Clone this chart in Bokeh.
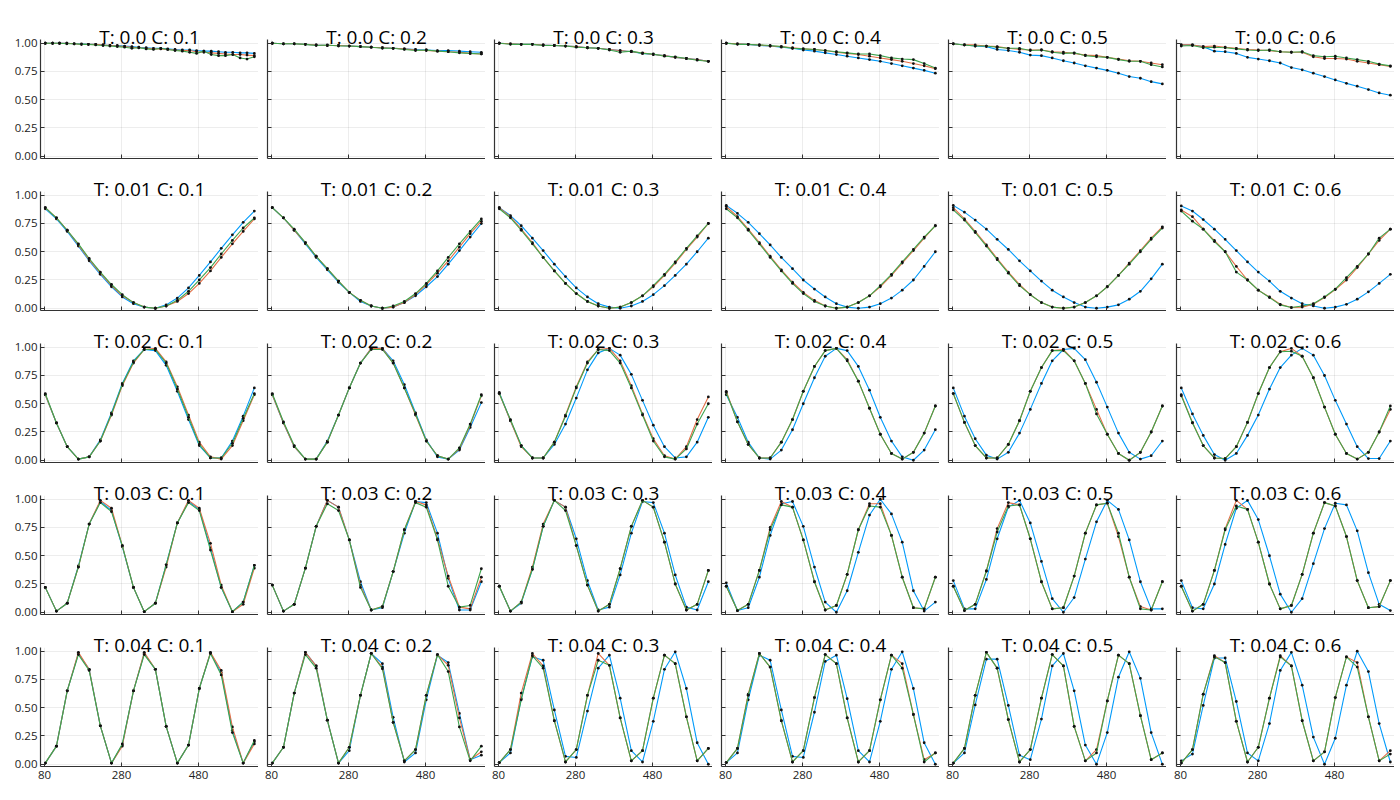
from bokeh.plotting import figure
from bokeh.layouts import gridplot
from bokeh.models import Range1d, FixedTicker, PrintfTickFormatter
from bokeh.embed import file_html
from bokeh.resources import INLINE

T_LABELS = ["0.0", "0.01", "0.02", "0.03", "0.04"]
C_LABELS = ["0.1", "0.2", "0.3", "0.4", "0.5", "0.6"]
X_TICKS = [80, 280, 480]
Y_TICKS = [0.0, 0.25, 0.5, 0.75, 1.0]

x_dense = [82, 101, 119, 138, 157, 176, 194, 213, 232, 250, 269, 288, 307, 325, 344,
           363, 382, 400, 419, 438, 457, 475, 494, 513, 532, 550, 569, 588, 606, 625]
x_std = [82, 111, 139, 168, 196, 225, 254, 282, 311, 339, 368, 396, 425, 454, 482,
         511, 539, 568, 596, 625]

# ---- T = 0.0 ----
t0_c1_blue = [1.00,1.00,1.00,1.00,0.995,0.995,0.99,0.99,0.985,0.98,0.98,0.975,0.97,0.965,0.96,0.955,0.955,0.95,0.945,0.94,0.94,0.935,0.93,0.93,0.925,0.92,0.92,0.915,0.915,0.91]
t0_c1_red = [1.00,1.00,1.00,1.00,0.995,0.99,0.99,0.99,0.985,0.98,0.975,0.97,0.965,0.96,0.955,0.95,0.95,0.945,0.94,0.935,0.935,0.925,0.92,0.915,0.91,0.905,0.90,0.90,0.895,0.89]
t0_c1_green = [1.00,1.00,1.00,0.995,0.995,0.99,0.99,0.985,0.98,0.975,0.97,0.965,0.955,0.96,0.95,0.945,0.955,0.945,0.935,0.93,0.92,0.91,0.93,0.90,0.89,0.89,0.90,0.87,0.86,0.88]
t0_c2_blue = [1.00,0.995,0.995,0.99,0.985,0.98,0.98,0.975,0.97,0.965,0.96,0.955,0.95,0.945,0.94,0.935,0.935,0.93,0.925,0.92]
t0_c2_red = [1.00,0.995,0.995,0.99,0.985,0.98,0.98,0.975,0.97,0.965,0.96,0.955,0.95,0.94,0.935,0.93,0.925,0.92,0.91,0.905]
t0_c2_green = [1.00,0.995,0.995,0.99,0.98,0.985,0.975,0.975,0.97,0.965,0.955,0.955,0.945,0.935,0.94,0.93,0.925,0.915,0.91,0.905]
t0_c3_blue = [1.00,0.995,0.99,0.99,0.985,0.98,0.975,0.97,0.96,0.955,0.945,0.935,0.925,0.91,0.90,0.89,0.875,0.865,0.855,0.84]
t0_c3_red = [1.00,0.995,0.99,0.99,0.985,0.98,0.975,0.97,0.96,0.955,0.945,0.935,0.925,0.915,0.90,0.89,0.875,0.865,0.855,0.84]
t0_c3_green = [1.00,0.99,0.99,0.99,0.98,0.98,0.975,0.965,0.96,0.955,0.94,0.92,0.93,0.91,0.905,0.885,0.88,0.865,0.85,0.84]
t0_c4_blue = [1.00,0.995,0.99,0.98,0.975,0.965,0.955,0.94,0.93,0.915,0.90,0.885,0.87,0.855,0.84,0.82,0.80,0.78,0.76,0.735]
t0_c4_red = [1.00,0.995,0.99,0.985,0.975,0.97,0.96,0.95,0.945,0.935,0.92,0.91,0.90,0.885,0.87,0.855,0.84,0.82,0.80,0.775]
t0_c4_green = [1.00,0.99,0.99,0.985,0.98,0.97,0.955,0.95,0.945,0.935,0.925,0.915,0.905,0.905,0.89,0.87,0.86,0.855,0.82,0.78]
t0_c5_blue = [0.995,0.985,0.975,0.97,0.945,0.935,0.92,0.895,0.89,0.87,0.845,0.825,0.80,0.78,0.76,0.735,0.705,0.69,0.66,0.64]
t0_c5_red = [0.995,0.985,0.985,0.975,0.97,0.955,0.945,0.94,0.94,0.925,0.92,0.91,0.895,0.89,0.875,0.86,0.845,0.84,0.825,0.81]
t0_c5_green = [0.995,0.985,0.975,0.975,0.965,0.955,0.955,0.935,0.94,0.92,0.91,0.915,0.89,0.88,0.875,0.855,0.84,0.84,0.81,0.79]
t0_c6_blue = [0.985,0.985,0.97,0.93,0.925,0.91,0.875,0.86,0.845,0.825,0.785,0.765,0.735,0.705,0.675,0.645,0.62,0.59,0.56,0.54]
t0_c6_red = [0.985,0.985,0.97,0.975,0.965,0.955,0.945,0.94,0.935,0.925,0.92,0.92,0.88,0.865,0.865,0.86,0.84,0.825,0.81,0.795]
t0_c6_green = [0.975,0.98,0.96,0.965,0.96,0.95,0.94,0.935,0.94,0.925,0.92,0.925,0.89,0.88,0.885,0.87,0.855,0.84,0.815,0.80]

# ---- T = 0.01 ----
t1_c1_blue = [0.88,0.79,0.68,0.55,0.42,0.30,0.19,0.10,0.04,0.01,0.00,0.03,0.09,0.18,0.29,0.41,0.53,0.65,0.76,0.86]
t1_c1_red = [0.89,0.80,0.69,0.56,0.43,0.31,0.20,0.11,0.05,0.01,0.00,0.02,0.06,0.13,0.22,0.33,0.45,0.57,0.68,0.79]
t1_c1_green = [0.89,0.80,0.69,0.57,0.44,0.32,0.21,0.12,0.05,0.01,0.00,0.02,0.07,0.15,0.25,0.36,0.48,0.60,0.71,0.80]
t1_c2_blue = [0.89,0.80,0.69,0.57,0.45,0.34,0.23,0.14,0.06,0.02,0.00,0.01,0.05,0.11,0.19,0.28,0.39,0.51,0.63,0.75]
t1_c2_red = [0.89,0.80,0.69,0.58,0.46,0.35,0.24,0.14,0.07,0.02,0.00,0.01,0.05,0.12,0.21,0.31,0.42,0.54,0.66,0.77]
t1_c2_green = [0.89,0.80,0.70,0.58,0.46,0.35,0.24,0.14,0.07,0.02,0.00,0.02,0.06,0.13,0.22,0.33,0.45,0.57,0.68,0.79]
t1_c3_blue = [0.89,0.82,0.73,0.62,0.51,0.39,0.28,0.18,0.10,0.04,0.01,0.00,0.02,0.06,0.12,0.20,0.29,0.39,0.50,0.62]
t1_c3_red = [0.89,0.81,0.70,0.58,0.45,0.33,0.22,0.13,0.06,0.02,0.00,0.01,0.05,0.11,0.19,0.29,0.40,0.52,0.63,0.75]
t1_c3_green = [0.88,0.80,0.69,0.57,0.45,0.33,0.22,0.13,0.06,0.02,0.00,0.01,0.05,0.11,0.20,0.30,0.41,0.53,0.64,0.75]
t1_c4_blue = [0.91,0.84,0.76,0.66,0.56,0.45,0.35,0.25,0.17,0.10,0.04,0.01,0.00,0.01,0.04,0.09,0.16,0.25,0.37,0.50]
t1_c4_red = [0.90,0.81,0.70,0.58,0.46,0.34,0.23,0.14,0.07,0.02,0.00,0.01,0.05,0.11,0.19,0.29,0.40,0.51,0.62,0.73]
t1_c4_green = [0.88,0.80,0.69,0.57,0.45,0.33,0.22,0.13,0.06,0.02,0.00,0.01,0.05,0.11,0.20,0.30,0.41,0.52,0.63,0.73]
t1_c5_blue = [0.91,0.85,0.78,0.70,0.61,0.52,0.42,0.33,0.24,0.16,0.10,0.05,0.01,0.00,0.01,0.03,0.08,0.15,0.26,0.39]
t1_c5_red = [0.89,0.79,0.68,0.56,0.44,0.32,0.21,0.12,0.05,0.01,0.00,0.01,0.05,0.11,0.19,0.29,0.40,0.51,0.62,0.72]
t1_c5_green = [0.87,0.78,0.67,0.55,0.43,0.31,0.20,0.12,0.05,0.01,0.00,0.01,0.05,0.11,0.19,0.29,0.39,0.50,0.61,0.71]
t1_c6_blue = [0.905,0.86,0.785,0.70,0.61,0.51,0.41,0.32,0.24,0.15,0.09,0.04,0.02,0.00,0.01,0.035,0.08,0.145,0.22,0.30]
t1_c6_red = [0.87,0.81,0.70,0.60,0.50,0.37,0.25,0.16,0.10,0.035,0.006,0.01,0.035,0.095,0.165,0.25,0.36,0.48,0.60,0.70]
t1_c6_green = [0.86,0.77,0.70,0.59,0.50,0.32,0.25,0.16,0.095,0.03,0.006,0.02,0.04,0.10,0.17,0.27,0.37,0.48,0.62,0.70]

# ---- T = 0.02 ----
t2_c1_blue = [0.58,0.33,0.12,0.01,0.03,0.18,0.42,0.68,0.88,0.98,0.97,0.84,0.61,0.36,0.13,0.02,0.02,0.17,0.39,0.64]
t2_c1_red = [0.58,0.33,0.12,0.01,0.03,0.17,0.40,0.66,0.86,0.98,0.99,0.87,0.65,0.40,0.16,0.03,0.01,0.13,0.35,0.58]
t2_c1_green = [0.59,0.33,0.12,0.01,0.03,0.17,0.41,0.67,0.87,0.98,0.98,0.86,0.63,0.38,0.14,0.02,0.02,0.15,0.37,0.59]
t2_c2_blue = [0.58,0.33,0.12,0.01,0.01,0.17,0.40,0.64,0.86,0.99,0.99,0.88,0.67,0.42,0.18,0.03,0.01,0.09,0.29,0.51]
t2_c2_red = [0.58,0.33,0.12,0.01,0.01,0.16,0.40,0.64,0.86,0.99,0.99,0.86,0.64,0.40,0.17,0.04,0.01,0.10,0.31,0.57]
t2_c2_green = [0.59,0.34,0.13,0.01,0.01,0.16,0.40,0.64,0.86,0.98,0.98,0.86,0.64,0.41,0.17,0.04,0.01,0.11,0.32,0.58]
t2_c3_blue = [0.60,0.35,0.13,0.02,0.02,0.14,0.32,0.55,0.80,0.95,0.99,0.93,0.76,0.53,0.31,0.12,0.02,0.03,0.16,0.38]
t2_c3_red = [0.59,0.35,0.12,0.02,0.02,0.16,0.40,0.65,0.87,0.98,0.99,0.88,0.66,0.41,0.19,0.04,0.01,0.12,0.36,0.56]
t2_c3_green = [0.59,0.36,0.13,0.02,0.02,0.16,0.39,0.64,0.86,0.98,0.97,0.86,0.64,0.40,0.17,0.03,0.01,0.10,0.32,0.50]
t2_c4_blue = [0.58,0.38,0.16,0.02,0.01,0.09,0.27,0.50,0.73,0.92,0.99,0.97,0.83,0.62,0.38,0.17,0.03,0.00,0.09,0.27]
t2_c4_red = [0.61,0.34,0.14,0.02,0.02,0.16,0.36,0.61,0.83,0.97,0.99,0.89,0.70,0.46,0.23,0.06,0.01,0.07,0.24,0.48]
t2_c4_green = [0.60,0.34,0.14,0.02,0.02,0.16,0.36,0.61,0.83,0.97,0.99,0.88,0.70,0.46,0.23,0.06,0.01,0.07,0.24,0.48]
t2_c5_blue = [0.64,0.39,0.19,0.045,0.01,0.07,0.24,0.45,0.68,0.88,0.98,0.99,0.89,0.69,0.47,0.24,0.07,0.01,0.04,0.17]
t2_c5_red = [0.59,0.335,0.13,0.02,0.02,0.14,0.35,0.61,0.82,0.97,0.98,0.88,0.68,0.45,0.23,0.06,0.00,0.07,0.25,0.48]
t2_c5_green = [0.59,0.335,0.13,0.02,0.02,0.14,0.35,0.61,0.82,0.97,0.97,0.88,0.68,0.41,0.23,0.06,0.00,0.07,0.25,0.48]
t2_c6_blue = [0.64,0.41,0.22,0.05,0.00,0.06,0.22,0.40,0.63,0.82,0.93,0.99,0.93,0.75,0.53,0.32,0.12,0.015,0.015,0.17]
t2_c6_red = [0.58,0.335,0.13,0.02,0.015,0.12,0.335,0.59,0.82,0.96,0.99,0.92,0.73,0.47,0.23,0.06,0.01,0.07,0.25,0.45]
t2_c6_green = [0.57,0.33,0.13,0.02,0.015,0.12,0.335,0.59,0.82,0.96,0.965,0.92,0.73,0.47,0.23,0.06,0.01,0.07,0.25,0.48]

# ---- T = 0.03 ----
t3_c1_blue = [0.22,0.01,0.08,0.41,0.78,0.98,0.90,0.58,0.22,0.005,0.08,0.42,0.79,0.98,0.91,0.57,0.22,0.005,0.09,0.415]
t3_c1_red = [0.22,0.01,0.08,0.40,0.78,0.99,0.92,0.59,0.22,0.005,0.08,0.40,0.79,0.99,0.92,0.61,0.24,0.005,0.07,0.39]
t3_c1_green = [0.22,0.01,0.08,0.40,0.78,0.97,0.89,0.59,0.22,0.005,0.08,0.42,0.79,0.97,0.90,0.55,0.22,0.005,0.09,0.415]
t3_c2_blue = [0.24,0.01,0.07,0.39,0.76,0.99,0.93,0.64,0.27,0.02,0.04,0.36,0.70,0.98,0.97,0.70,0.30,0.02,0.02,0.27]
t3_c2_red = [0.24,0.01,0.07,0.39,0.76,0.99,0.93,0.64,0.24,0.02,0.05,0.36,0.73,0.98,0.95,0.65,0.32,0.045,0.03,0.31]
t3_c2_green = [0.24,0.01,0.07,0.39,0.76,0.96,0.90,0.64,0.22,0.02,0.05,0.36,0.73,0.97,0.93,0.64,0.23,0.045,0.06,0.385]
t3_c3_blue = [0.23,0.01,0.08,0.38,0.76,0.99,0.93,0.65,0.28,0.02,0.045,0.33,0.70,0.98,0.97,0.70,0.33,0.045,0.02,0.27]
t3_c3_red = [0.23,0.01,0.09,0.40,0.78,0.99,0.93,0.59,0.24,0.01,0.07,0.385,0.76,0.99,0.93,0.62,0.25,0.02,0.07,0.37]
t3_c3_green = [0.23,0.01,0.09,0.38,0.76,0.99,0.90,0.59,0.24,0.01,0.07,0.385,0.76,0.99,0.93,0.62,0.25,0.02,0.07,0.37]
t3_c4_blue = [0.26,0.015,0.04,0.31,0.68,0.96,0.98,0.76,0.40,0.09,0.00,0.19,0.53,0.86,1.00,0.87,0.62,0.19,0.01,0.09]
t3_c4_red = [0.23,0.015,0.07,0.37,0.75,0.98,0.93,0.64,0.27,0.02,0.06,0.335,0.73,0.96,0.96,0.68,0.31,0.04,0.03,0.31]
t3_c4_green = [0.23,0.015,0.07,0.37,0.73,0.95,0.93,0.64,0.27,0.02,0.06,0.335,0.73,0.94,0.93,0.68,0.31,0.04,0.03,0.31]
t3_c5_blue = [0.28,0.03,0.03,0.29,0.65,0.93,0.99,0.79,0.45,0.12,0.00,0.13,0.47,0.80,0.99,0.91,0.64,0.27,0.03,0.03]
t3_c5_red = [0.23,0.015,0.07,0.365,0.74,0.97,0.95,0.65,0.27,0.03,0.04,0.32,0.70,0.95,0.965,0.67,0.31,0.05,0.02,0.27]
t3_c5_green = [0.23,0.015,0.07,0.365,0.71,0.94,0.95,0.65,0.27,0.03,0.04,0.32,0.70,0.95,0.965,0.70,0.31,0.03,0.02,0.27]
t3_c6_blue = [0.28,0.04,0.03,0.25,0.60,0.92,0.99,0.82,0.50,0.16,0.00,0.12,0.43,0.74,0.965,0.95,0.72,0.35,0.07,0.015]
t3_c6_red = [0.23,0.01,0.07,0.37,0.74,0.99,0.91,0.62,0.25,0.03,0.06,0.335,0.70,0.97,0.94,0.67,0.28,0.04,0.05,0.28]
t3_c6_green = [0.23,0.01,0.07,0.37,0.73,0.94,0.91,0.62,0.25,0.03,0.06,0.335,0.70,0.97,0.94,0.67,0.28,0.04,0.05,0.28]

# ---- T = 0.04 ----
t4_c1_blue = [0.01,0.16,0.65,0.98,0.84,0.34,0.01,0.17,0.65,0.98,0.84,0.335,0.01,0.17,0.67,0.985,0.81,0.30,0.01,0.20]
t4_c1_red = [0.01,0.16,0.65,0.99,0.84,0.34,0.01,0.16,0.65,0.99,0.84,0.335,0.01,0.17,0.67,0.99,0.83,0.33,0.01,0.18]
t4_c1_green = [0.01,0.16,0.65,0.97,0.83,0.34,0.01,0.18,0.65,0.97,0.84,0.335,0.01,0.17,0.67,0.98,0.79,0.28,0.01,0.21]
t4_c2_blue = [0.01,0.15,0.63,0.99,0.87,0.39,0.01,0.12,0.61,0.98,0.89,0.415,0.02,0.10,0.57,0.965,0.90,0.45,0.04,0.08]
t4_c2_red = [0.01,0.15,0.63,0.99,0.87,0.39,0.01,0.15,0.61,0.98,0.86,0.37,0.03,0.13,0.61,0.97,0.875,0.41,0.04,0.11]
t4_c2_green = [0.01,0.15,0.63,0.97,0.85,0.39,0.01,0.15,0.61,0.98,0.845,0.37,0.03,0.13,0.61,0.97,0.82,0.33,0.03,0.16]
t4_c3_blue = [0.015,0.10,0.58,0.95,0.92,0.48,0.07,0.06,0.47,0.85,0.965,0.585,0.12,0.02,0.38,0.84,0.995,0.67,0.19,0.00]
t4_c3_red = [0.015,0.13,0.63,0.98,0.87,0.385,0.02,0.13,0.61,0.98,0.875,0.41,0.03,0.12,0.585,0.965,0.89,0.42,0.03,0.14]
t4_c3_green = [0.015,0.13,0.57,0.96,0.85,0.385,0.02,0.13,0.61,0.92,0.875,0.41,0.03,0.12,0.585,0.965,0.89,0.42,0.03,0.14]
t4_c4_blue = [0.015,0.10,0.57,0.965,0.92,0.48,0.07,0.06,0.46,0.91,0.965,0.58,0.12,0.02,0.38,0.84,0.995,0.67,0.19,0.00]
t4_c4_red = [0.015,0.14,0.62,0.98,0.86,0.385,0.02,0.12,0.59,0.97,0.89,0.41,0.02,0.12,0.57,0.965,0.89,0.44,0.04,0.10]
t4_c4_green = [0.015,0.14,0.61,0.98,0.86,0.385,0.02,0.12,0.59,0.97,0.89,0.41,0.02,0.12,0.57,0.965,0.85,0.44,0.02,0.10]
t4_c5_blue = [0.01,0.10,0.525,0.93,0.93,0.52,0.08,0.04,0.40,0.87,0.98,0.65,0.17,0.00,0.28,0.77,0.995,0.76,0.28,0.00]
t4_c5_red = [0.01,0.14,0.61,0.99,0.85,0.395,0.02,0.13,0.585,0.97,0.87,0.335,0.03,0.13,0.56,0.965,0.89,0.43,0.04,0.10]
t4_c5_green = [0.01,0.14,0.61,0.99,0.85,0.395,0.02,0.13,0.585,0.97,0.87,0.335,0.03,0.10,0.56,0.965,0.89,0.43,0.04,0.10]
t4_c6_blue = [0.03,0.09,0.52,0.94,0.94,0.555,0.10,0.03,0.36,0.83,0.99,0.70,0.24,0.00,0.23,0.70,1.00,0.82,0.36,0.02]
t4_c6_red = [0.01,0.13,0.62,0.96,0.90,0.38,0.02,0.15,0.585,0.96,0.87,0.385,0.03,0.11,0.59,0.95,0.90,0.42,0.03,0.12]
t4_c6_green = [0.01,0.13,0.62,0.95,0.90,0.38,0.02,0.15,0.585,0.95,0.87,0.385,0.03,0.11,0.59,0.95,0.86,0.42,0.03,0.09]

GRID = [
    [(t0_c1_blue, t0_c1_red, t0_c1_green), (t0_c2_blue, t0_c2_red, t0_c2_green),
     (t0_c3_blue, t0_c3_red, t0_c3_green), (t0_c4_blue, t0_c4_red, t0_c4_green),
     (t0_c5_blue, t0_c5_red, t0_c5_green), (t0_c6_blue, t0_c6_red, t0_c6_green)],
    [(t1_c1_blue, t1_c1_red, t1_c1_green), (t1_c2_blue, t1_c2_red, t1_c2_green),
     (t1_c3_blue, t1_c3_red, t1_c3_green), (t1_c4_blue, t1_c4_red, t1_c4_green),
     (t1_c5_blue, t1_c5_red, t1_c5_green), (t1_c6_blue, t1_c6_red, t1_c6_green)],
    [(t2_c1_blue, t2_c1_red, t2_c1_green), (t2_c2_blue, t2_c2_red, t2_c2_green),
     (t2_c3_blue, t2_c3_red, t2_c3_green), (t2_c4_blue, t2_c4_red, t2_c4_green),
     (t2_c5_blue, t2_c5_red, t2_c5_green), (t2_c6_blue, t2_c6_red, t2_c6_green)],
    [(t3_c1_blue, t3_c1_red, t3_c1_green), (t3_c2_blue, t3_c2_red, t3_c2_green),
     (t3_c3_blue, t3_c3_red, t3_c3_green), (t3_c4_blue, t3_c4_red, t3_c4_green),
     (t3_c5_blue, t3_c5_red, t3_c5_green), (t3_c6_blue, t3_c6_red, t3_c6_green)],
    [(t4_c1_blue, t4_c1_red, t4_c1_green), (t4_c2_blue, t4_c2_red, t4_c2_green),
     (t4_c3_blue, t4_c3_red, t4_c3_green), (t4_c4_blue, t4_c4_red, t4_c4_green),
     (t4_c5_blue, t4_c5_red, t4_c5_green), (t4_c6_blue, t4_c6_red, t4_c6_green)],
]

COLORS = ["#009AFA", "#E36F47", "#3EA44E"]
FONT = "Open Sans"
AXIS_COLOR = "#333333"
FW, FH = 218, 119
X0, X1 = 69.6, 635.8
Y0, Y1 = -0.02, 1.033
N_ROWS = len(GRID)

figs = []
for ri, row in enumerate(GRID):
    for ci, series in enumerate(row):
        first_col = ci == 0
        last_row = ri == N_ROWS - 1
        if first_col:
            left = 40
        elif ci == 5:
            left = 10
        else:
            left = 9
        p = figure(frame_width=FW, frame_height=FH,
                   x_range=Range1d(X0, X1), y_range=Range1d(Y0, Y1),
                   output_backend="svg", toolbar_location=None,
                   min_border_left=left, min_border_right=0,
                   min_border_top=39 if ri == 0 else 26,
                   min_border_bottom=25 if last_row else 7)
        p.outline_line_color = None
        p.background_fill_color = "white"
        p.border_fill_color = "white"

        p.title.text = "T: %s C: %s" % (T_LABELS[ri], C_LABELS[ci])
        p.title.align = "center"
        p.title.text_font = FONT
        p.title.text_font_size = "19px"
        p.title.text_font_style = "normal"
        p.title.text_color = "black"
        p.title.standoff = -21

        xa = p.xaxis[0]
        ya = p.yaxis[0]
        xa.ticker = FixedTicker(ticks=X_TICKS)
        ya.ticker = FixedTicker(ticks=Y_TICKS)
        ya.formatter = PrintfTickFormatter(format="%.2f")
        for ax in (xa, ya):
            ax.major_tick_in = 4
            ax.major_tick_out = 0
            ax.minor_tick_line_color = None
            ax.axis_line_color = AXIS_COLOR
            ax.axis_line_width = 1.2
            ax.major_tick_line_color = AXIS_COLOR
            ax.major_label_text_font = FONT
            ax.major_label_text_color = "#222222"
            ax.major_label_text_font_size = "11.5px"
        xa.major_label_standoff = 4
        ya.major_label_standoff = 3
        if not last_row:
            xa.major_label_text_font_size = "0px"
            xa.major_label_text_color = None
            xa.major_label_standoff = 0
        if not first_col:
            ya.major_label_text_font_size = "0px"
            ya.major_label_text_color = None
            ya.major_label_standoff = 0

        p.xgrid.grid_line_color = "#000000"
        p.xgrid.grid_line_alpha = 0.07
        p.ygrid.grid_line_color = "#000000"
        p.ygrid.grid_line_alpha = 0.07

        xs = x_dense if len(series[0]) == len(x_dense) else x_std
        for ys, col in zip(series, COLORS):
            p.line(xs, ys, line_color=col, line_width=1.1)
            p.scatter(xs, ys, size=2.8, fill_color="#111111", line_color=None)

        figs.append(p)

grid = gridplot(figs, ncols=6, toolbar_location=None)
open("out.html", "w").write(file_html(grid, INLINE))
